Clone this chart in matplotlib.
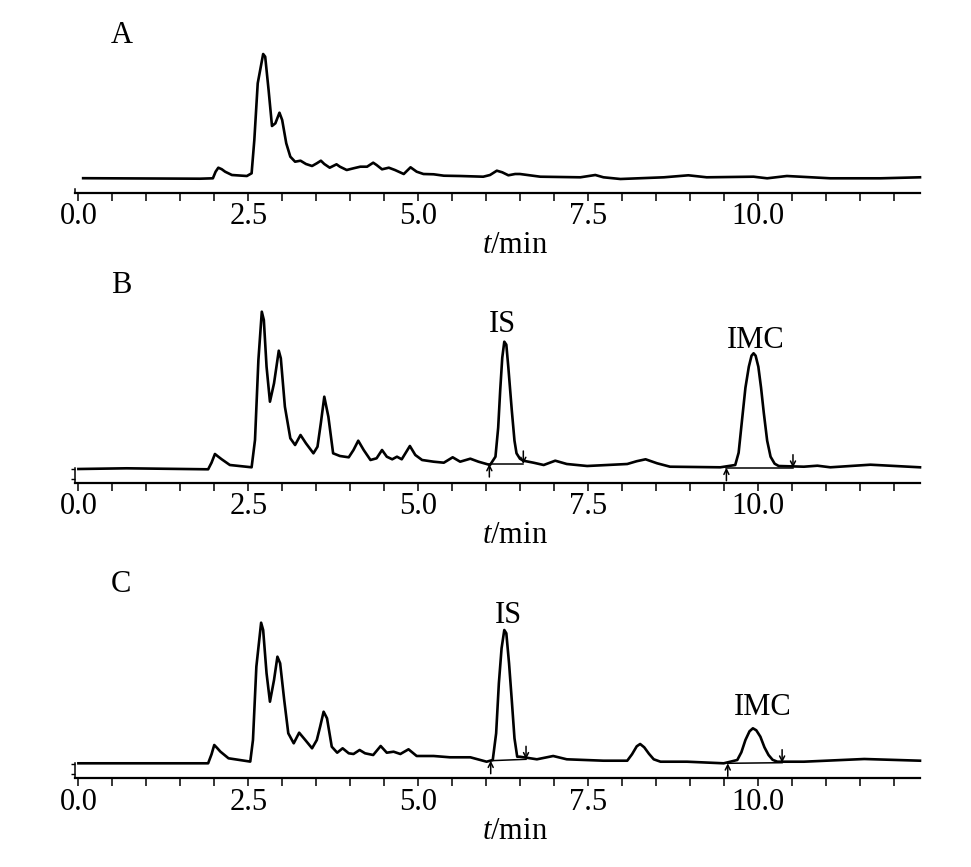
import matplotlib
matplotlib.use("Agg")
import matplotlib.pyplot as plt
from matplotlib.ticker import MultipleLocator

plt.rcParams['font.family'] = ['Liberation Serif', 'DejaVu Serif']
plt.rcParams['mathtext.fontset'] = 'custom'
plt.rcParams['mathtext.rm'] = 'Liberation Serif'
plt.rcParams['mathtext.it'] = 'Liberation Serif:italic'

# Chromatogram traces (time in min, signal in arbitrary units)
time_a = [0.07, 1.79, 1.98, 2.02, 2.06, 2.11, 2.16, 2.26, 2.48, 2.55, 2.59, 2.64, 2.69,
          2.72, 2.75, 2.80, 2.85, 2.90, 2.96, 3.00, 3.06, 3.12, 3.19, 3.27, 3.35, 3.44,
          3.51, 3.57, 3.62, 3.70, 3.80, 3.85, 3.95, 4.05, 4.15, 4.25, 4.34, 4.39, 4.47,
          4.57, 4.66, 4.79, 4.89, 4.98, 5.08, 5.23, 5.38, 5.62, 5.96, 6.06, 6.16, 6.24,
          6.33, 6.43, 6.50, 6.80, 7.39, 7.61, 7.73, 7.98, 8.62, 8.98, 9.25, 9.94, 10.14,
          10.43, 11.07, 11.81, 12.39]
signal_a = [14.5, 14.0, 14.4, 21.0, 25.0, 23.5, 21.0, 17.7, 16.7, 19.4, 52.7, 109.4, 127.7,
            138.7, 136.0, 102.7, 66.7, 69.4, 80.0, 72.7, 49.4, 36.0, 31.0, 32.0, 28.7, 26.7,
            29.4, 32.0, 28.7, 25.0, 28.4, 26.0, 22.7, 24.4, 26.0, 26.0, 30.0, 27.7, 23.4,
            25.0, 22.7, 18.7, 25.4, 21.0, 18.7, 18.4, 17.0, 16.7, 16.0, 17.7, 22.0, 20.4,
            17.4, 18.7, 18.7, 16.0, 15.4, 17.7, 15.4, 13.7, 15.4, 17.4, 15.4, 16.0, 14.4,
            16.7, 14.4, 14.4, 15.4]

time_b = [0.0, 0.71, 1.91, 1.96, 2.01, 2.06, 2.11, 2.23, 2.55, 2.60, 2.65, 2.70, 2.73,
          2.77, 2.82, 2.88, 2.95, 2.98, 3.04, 3.12, 3.19, 3.27, 3.35, 3.46, 3.52, 3.57,
          3.62, 3.68, 3.75, 3.85, 3.98, 4.05, 4.12, 4.20, 4.30, 4.39, 4.47, 4.54, 4.62,
          4.69, 4.76, 4.88, 4.96, 5.06, 5.23, 5.38, 5.51, 5.62, 5.77, 5.89, 6.06, 6.14,
          6.18, 6.21, 6.24, 6.27, 6.30, 6.33, 6.38, 6.42, 6.45, 6.50, 6.55, 6.70, 6.85,
          7.02, 7.19, 7.49, 8.08, 8.22, 8.35, 8.52, 8.71, 9.45, 9.67, 9.72, 9.77, 9.82,
          9.87, 9.91, 9.94, 9.97, 10.01, 10.05, 10.09, 10.14, 10.19, 10.25, 10.31, 10.68,
          10.88, 11.07, 11.66, 12.39]
signal_b = [13.7, 14.4, 13.4, 20.0, 28.7, 26.0, 23.4, 17.7, 15.4, 42.7, 122.7, 171.0, 162.7,
            116.0, 81.0, 99.4, 132.0, 124.4, 76.0, 44.4, 37.7, 47.7, 39.4, 29.4, 36.0, 60.0,
            86.0, 66.0, 29.4, 26.7, 25.4, 32.7, 42.0, 32.7, 22.7, 24.4, 32.7, 26.0, 23.4,
            26.0, 23.4, 36.7, 27.7, 22.7, 21.0, 20.0, 25.4, 21.0, 24.0, 21.0, 17.7, 26.0,
            55.0, 92.7, 125.0, 141.0, 138.0, 115.0, 72.7, 42.0, 29.4, 24.0, 22.0, 20.0, 17.7,
            22.0, 18.7, 16.7, 18.7, 21.5, 23.4, 19.4, 16.0, 15.4, 17.7, 30.0, 62.7, 95.0,
            116.0, 127.0, 129.4, 127.0, 116.0, 95.0, 70.0, 42.0, 26.0, 19.0, 16.7, 16.0,
            17.0, 15.4, 18.0, 15.4]

time_c = [0.0, 1.91, 1.96, 2.00, 2.04, 2.09, 2.21, 2.53, 2.57, 2.62, 2.69, 2.72, 2.77,
          2.82, 2.88, 2.93, 2.97, 3.03, 3.09, 3.17, 3.25, 3.34, 3.44, 3.51, 3.56, 3.61,
          3.66, 3.73, 3.81, 3.89, 3.98, 4.05, 4.14, 4.22, 4.34, 4.45, 4.54, 4.64, 4.74,
          4.86, 4.98, 5.23, 5.47, 5.77, 6.01, 6.10, 6.15, 6.19, 6.23, 6.27, 6.30, 6.34,
          6.38, 6.42, 6.46, 6.50, 6.75, 6.99, 7.19, 7.73, 8.08, 8.15, 8.22, 8.27, 8.33,
          8.40, 8.47, 8.57, 8.96, 9.50, 9.70, 9.76, 9.82, 9.88, 9.93, 9.98, 10.04, 10.10,
          10.16, 10.22, 10.29, 10.68, 11.57, 12.39]
signal_c = [15.0, 15.0, 24.0, 33.3, 30.5, 26.7, 20.0, 16.7, 38.3, 111.7, 155.6, 148.3, 105.0,
            76.6, 98.3, 121.6, 115.0, 78.3, 45.0, 35.0, 45.6, 38.3, 30.0, 38.3, 52.0, 66.6,
            60.0, 31.6, 25.6, 30.0, 25.0, 24.3, 28.3, 25.0, 23.3, 32.3, 25.6, 26.6, 24.3,
            29.0, 22.3, 22.3, 21.0, 21.0, 16.6, 18.3, 45.0, 95.0, 130.0, 148.3, 145.0, 115.0,
            78.3, 40.0, 21.6, 21.6, 19.0, 22.3, 19.0, 17.6, 17.6, 24.0, 32.0, 34.3, 31.0,
            24.5, 19.0, 16.6, 16.6, 15.0, 18.3, 26.0, 38.3, 47.0, 50.0, 48.0, 41.6, 31.0,
            23.3, 18.5, 16.6, 16.6, 19.3, 17.6]

# Integration baselines: (start time, start level, end time, end level)
peaks_b = [(6.05, 18.7, 6.55, 18.7), (9.54, 15.0, 10.52, 15.0)]
peaks_c = [(6.07, 17.6, 6.59, 19.0), (9.56, 15.0, 10.36, 15.6)]

# Peak names and label anchor (time, level)
labels_b = [("IS", 6.25, 150.7), ("IMC", 9.97, 134.7)]
labels_c = [("IS", 6.33, 155.3), ("IMC", 10.07, 63.3)]

panels = [
    ("A", time_a, signal_a, [], [], 160, 1 - 192.7 / 867, 150.0),
    ("B", time_b, signal_b, peaks_b, labels_b, 190, 1 - 482.7 / 867, 189.7),
    ("C", time_c, signal_c, peaks_c, labels_c, 185, 1 - 778.3 / 867, 186.3),
]

fig = plt.figure(figsize=(9.71, 8.67), dpi=100)
fs = 22

for name, t, s, peaks, names, top, bottom, name_y in panels:
    ax = fig.add_axes([75 / 971, bottom, 845 / 971, top / 867])
    ax.plot(t, s, color='black', lw=1.9, solid_joinstyle='round', clip_on=False)

    # integration baseline with start/end arrows
    for t0, h0, t1, h1 in peaks:
        ax.plot([t0, t1], [h0, h1], color='black', lw=1.1)
        ax.annotate('', xy=(t0, h0), xytext=(t0, h0 - 13),
                    arrowprops=dict(arrowstyle='->', lw=1.1, color='black',
                                    shrinkA=0, shrinkB=0, mutation_scale=9))
        ax.annotate('', xy=(t1, h1), xytext=(t1, h1 + 13),
                    arrowprops=dict(arrowstyle='->', lw=1.1, color='black',
                                    shrinkA=0, shrinkB=0, mutation_scale=9))

    for label, lt, lh in names:
        ax.text(lt, lh, label, ha='center', va='baseline', fontsize=fs)

    ax.text(0.477, name_y, name, ha='left', va='baseline', fontsize=fs)
    ax.text(6.43, -60.6, '$t$/min', ha='center', va='baseline', fontsize=fs,
            clip_on=False)

    ax.set_xlim(-0.05, 12.39)
    ax.set_ylim(0, top)
    ax.patch.set_visible(False)
    for side in ['top', 'right']:
        ax.spines[side].set_visible(False)
    ax.spines['bottom'].set_linewidth(1.6)
    ax.spines['left'].set_linewidth(1.1)
    if name == "A":
        ax.spines['left'].set_bounds(0, 4)
        ax.set_yticks([])
    else:
        ax.spines['left'].set_bounds(0, 15)
        ax.set_yticks([4, 14])
        ax.tick_params(axis='y', direction='out', length=3, width=1.0, labelleft=False)

    ax.xaxis.set_major_locator(MultipleLocator(2.5))
    ax.xaxis.set_minor_locator(MultipleLocator(0.5))
    ax.xaxis.set_major_formatter(plt.FuncFormatter(lambda v, p: f"{v:.1f}"))
    ax.tick_params(axis='x', which='both', direction='out', length=6, width=1.1, pad=1)
    ax.tick_params(axis='x', labelsize=fs)

fig.savefig("out.png", dpi=100)
